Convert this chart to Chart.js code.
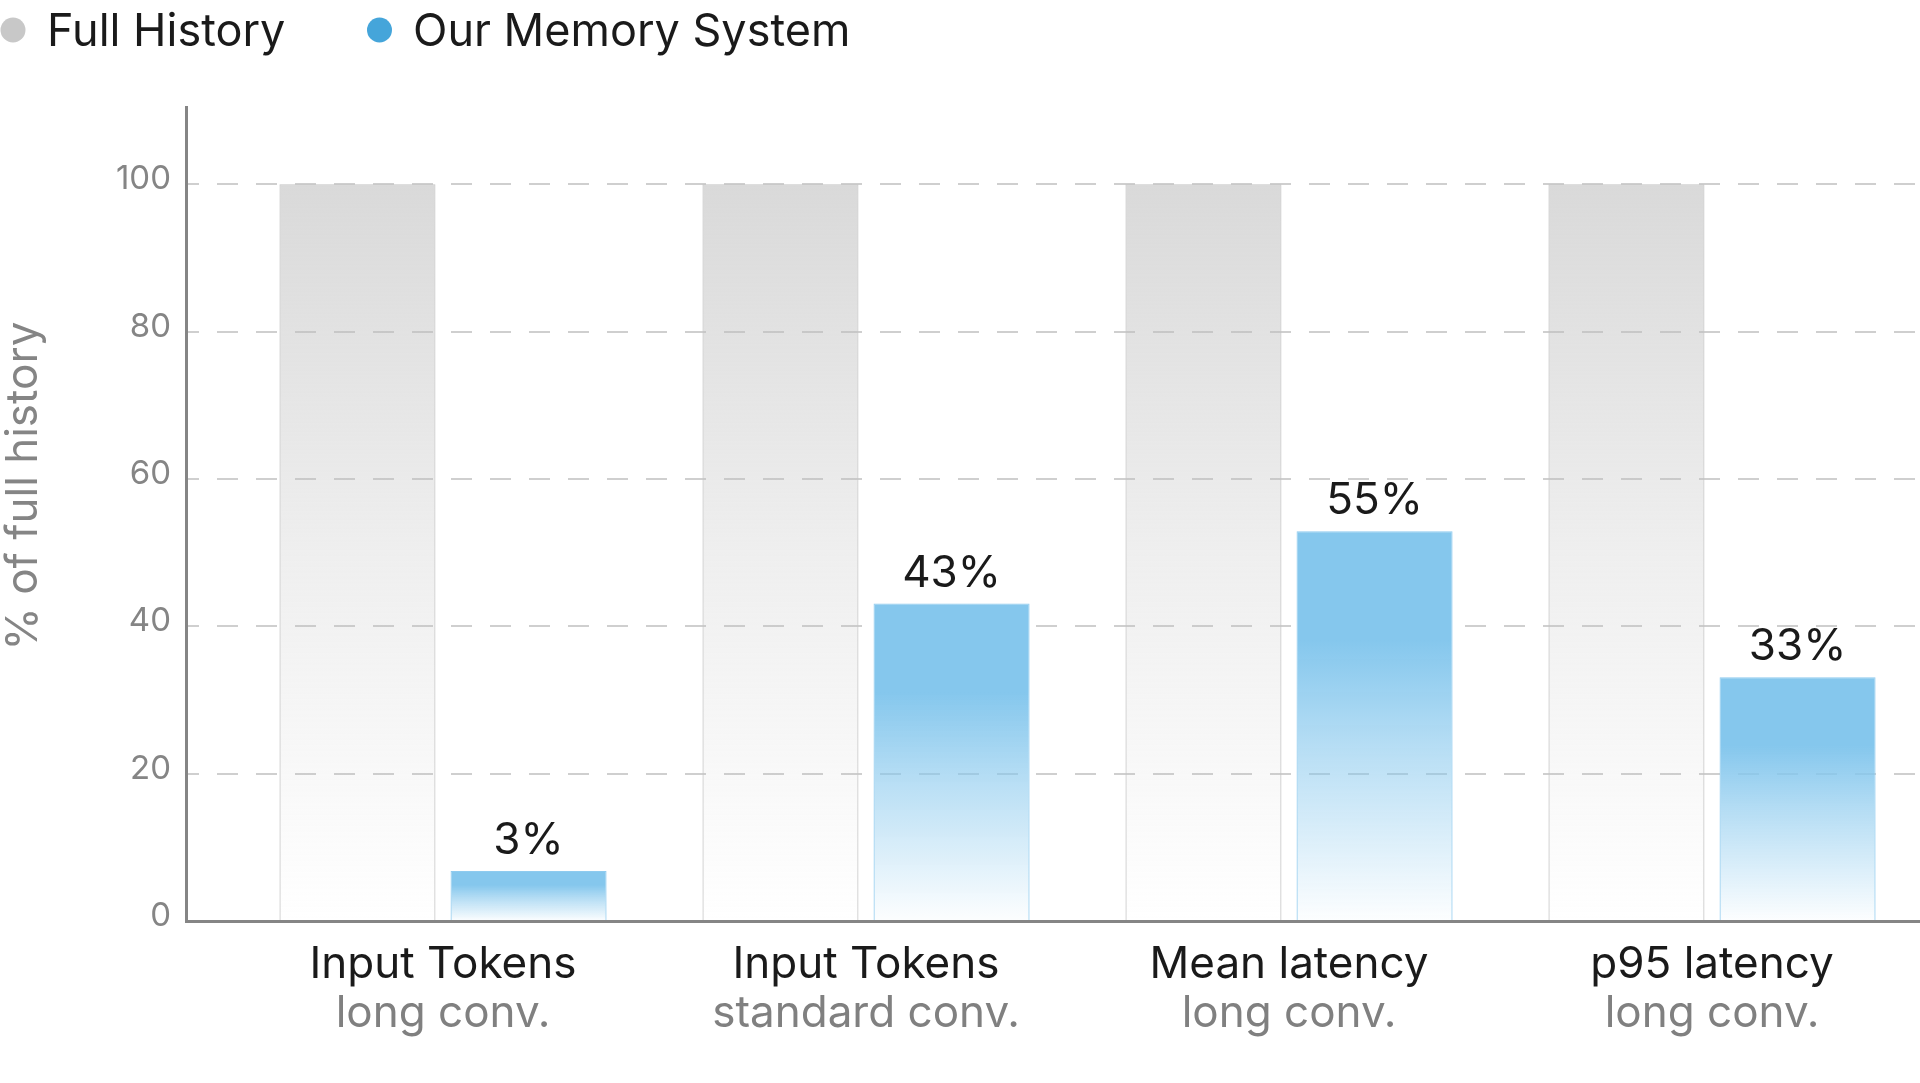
<!DOCTYPE html>
<html>
<head>
<meta charset="utf-8">
<script src="https://cdn.jsdelivr.net/npm/chart.js@4.4.1/dist/chart.umd.min.js"></script>
<style>
  html, body { margin: 0; padding: 0; background: #fff; overflow: hidden; }
  #wrap { width: 1920px; height: 1083px; position: relative; }
</style>
</head>
<body>
<div id="wrap"><canvas id="chart"></canvas></div>
<script>
// data
const categories = ['Input Tokens', 'Input Tokens', 'Mean latency', 'p95 latency'];
const subLabels = ['long conv.', 'standard conv.', 'long conv.', 'long conv.'];
const fullHistory = [100, 100, 100, 100];
const memorySystem = [6.8, 43.1, 52.9, 33.1];
const memoryLabels = ['3%', '43%', '55%', '33%'];
const yTicks = [0, 20, 40, 60, 80, 100];
const seriesNames = ['Full History', 'Our Memory System'];
const legendColors = ['#c8c8c8', '#45a5da'];

const FONT = 'Inter, "Liberation Sans", sans-serif';
const positions = categories.map(function (c, i) { return i; });

function toPoints(values) {
  return values.map(function (v, i) { return { x: positions[i], y: v }; });
}

// gradient fill from the bar top down to zero
function barGradient(rgb, stops) {
  return function (ctx) {
    const chart = ctx.chart;
    if (!chart.chartArea || ctx.type !== 'data') return 'rgba(' + rgb + ',0.5)';
    const y = chart.scales.y;
    const top = y.getPixelForValue(ctx.parsed.y);
    const bottom = y.getPixelForValue(0);
    const g = chart.ctx.createLinearGradient(0, top, 0, bottom);
    stops.forEach(function (s) { g.addColorStop(s[0], 'rgba(' + rgb + ',' + s[1] + ')'); });
    return g;
  };
}

const legendPlugin = {
  id: 'topLegend',
  afterDraw: function (chart) {
    const c = chart.ctx;
    const items = [{ dot: 13, text: 47 }, { dot: 379.5, text: 413 }];
    c.save();
    c.font = '45px ' + FONT;
    c.textBaseline = 'alphabetic';
    c.textAlign = 'left';
    items.forEach(function (it, i) {
      c.fillStyle = legendColors[i];
      c.beginPath();
      c.arc(it.dot, 30, 12.5, 0, Math.PI * 2);
      c.fill();
      c.fillStyle = '#1a1a1a';
      c.fillText(seriesNames[i], it.text, 46);
    });
    c.restore();
  }
};

const yTitlePlugin = {
  id: 'yTitle',
  afterDraw: function (chart) {
    const c = chart.ctx;
    c.save();
    c.translate(37, 486);
    c.rotate(-Math.PI / 2);
    c.font = '44px ' + FONT;
    c.fillStyle = '#858585';
    c.textAlign = 'center';
    c.textBaseline = 'alphabetic';
    c.fillText('% of full history', 0, 0);
    c.restore();
  }
};

const valueLabels = {
  id: 'valueLabels',
  afterDatasetsDraw: function (chart) {
    const c = chart.ctx;
    const meta = chart.getDatasetMeta(1);
    c.save();
    c.font = '44px ' + FONT;
    c.fillStyle = '#1a1a1a';
    c.textAlign = 'center';
    c.textBaseline = 'alphabetic';
    meta.data.forEach(function (bar, i) {
      c.fillText(memoryLabels[i], bar.x, bar.y - 17);
    });
    c.restore();
  }
};

function categoryTicks(scale) {
  scale.ticks = positions.map(function (p) { return { value: p }; });
}

function fixHeight(h) {
  return function (scale) {
    scale.height = h;
    scale.paddingLeft = 0;
    scale.paddingRight = 0;
  };
}

const xMin = -0.6076, xMax = 3.4917;

new Chart(document.getElementById('chart'), {
  type: 'bar',
  data: {
    datasets: [{
      label: seriesNames[0],
      data: toPoints(fullHistory),
      backgroundColor: barGradient('190,190,190', [[0, 0.58], [0.5, 0.25], [1, 0]]),
      borderColor: '#c4c4c4',
      borderWidth: 1,
      categoryPercentage: 0.809,
      barPercentage: 0.912
    }, {
      label: seriesNames[1],
      data: toPoints(memorySystem),
      backgroundColor: barGradient('133,199,237', [[0, 1], [0.28, 1], [0.55, 0.6], [1, 0.02]]),
      borderColor: '#8fcbef',
      borderWidth: 1,
      categoryPercentage: 0.809,
      barPercentage: 0.912
    }]
  },
  options: {
    responsive: true,
    maintainAspectRatio: false,
    animation: false,
    layout: { padding: { top: 107, right: 0, bottom: 38, left: 0 } },
    plugins: { legend: { display: false }, tooltip: { enabled: false } },
    scales: {
      x: {
        type: 'linear',
        position: 'bottom',
        weight: 0,
        offset: false,
        min: xMin,
        max: xMax,
        afterBuildTicks: categoryTicks,
        afterFit: fixHeight(72),
        grid: { display: false, offset: false },
        border: { display: true, color: '#858585', width: 3 },
        ticks: {
          padding: 14,
          maxRotation: 0,
          autoSkip: false,
          color: '#1a1a1a',
          font: { family: FONT, size: 44, lineHeight: 1 },
          callback: function (v) { return categories[v]; }
        }
      },
      x2: {
        type: 'linear',
        position: 'bottom',
        weight: 1,
        offset: false,
        min: xMin,
        max: xMax,
        afterBuildTicks: categoryTicks,
        afterFit: fixHeight(52),
        grid: { display: false, offset: false },
        border: { display: false },
        ticks: {
          padding: -9,
          maxRotation: 0,
          autoSkip: false,
          color: '#808080',
          font: { family: FONT, size: 44, lineHeight: 1 },
          callback: function (v) { return subLabels[v]; }
        }
      },
      y: {
        min: 0,
        max: 110.5,
        afterBuildTicks: function (scale) {
          scale.ticks = yTicks.map(function (v) { return { value: v }; });
        },
        afterFit: function (scale) { scale.width = 186; },
        grid: { color: '#cfcfcf', lineWidth: 2, drawTicks: false },
        border: { display: true, color: '#858585', width: 3, dash: [21, 18], dashOffset: 10 },
        ticks: {
          padding: 15,
          labelOffset: -5,
          color: '#858585',
          font: { family: FONT, size: 33 }
        }
      }
    }
  },
  plugins: [legendPlugin, yTitlePlugin, valueLabels]
});
</script>
</body>
</html>
